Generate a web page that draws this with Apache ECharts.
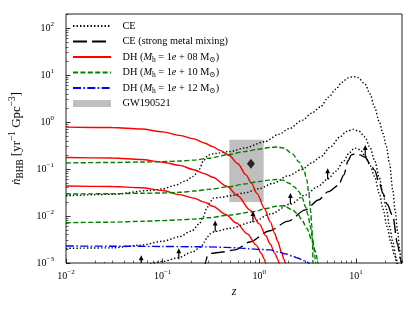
<!DOCTYPE html>
<html><head><meta charset="utf-8">
<script src="https://cdn.jsdelivr.net/npm/echarts@6/dist/echarts.min.js"></script>
<style>html,body{margin:0;padding:0;background:#fff}#c{width:415px;height:311px}</style>
</head><body><div id="c"></div>
<script>
// ---------- tick values ----------
const xMajorTicks = [0.01, 0.1, 1, 10];
const xMinorTicks = [0.02,0.03,0.04,0.05,0.06,0.07,0.08,0.09,0.2,0.3,0.4,0.5,0.6,0.7,0.8,0.9,2,3,4,5,6,7,8,9,20,30];
const yMajorTicks = [0.001, 0.01, 0.1, 1, 10, 100];
const yMinorTicks = [0.002,0.003,0.004,0.005,0.006,0.007,0.008,0.009,0.02,0.03,0.04,0.05,0.06,0.07,0.08,0.09,0.2,0.3,0.4,0.5,0.6,0.7,0.8,0.9,2,3,4,5,6,7,8,9,20,30,40,50,60,70,80,90,200];

// ---------- CE (dotted) ----------
const zCE1 = [0.01,0.03,0.075,0.1,0.135,0.17,0.208,0.24,0.264,0.297,0.35,0.49,0.7,1.13,1.6,2.03,2.78,3.5,4.28,5.22,6.2,7.14,8.3,9.4,10.5,12.4,14,15.6,17.5,19.1,20.7,22.3,24.1,25.5,27.1,28.3,29.3,30];
const nCE1 = [0.027,0.029,0.035,0.038,0.045,0.055,0.07,0.1,0.15,0.2,0.215,0.235,0.28,0.38,0.55,0.72,1.09,1.55,2.1,3.4,5.0,7.0,8.7,9.3,8.9,6.5,4.0,2.1,1.0,0.57,0.3,0.13,0.035,0.013,0.0045,0.002,0.0011,0.0007];
const zCE2 = [0.01,0.03,0.06,0.1,0.147,0.2,0.24,0.264,0.285,0.31,0.334,0.4,0.5,0.7,0.99,1.4,2.0,2.76,3.5,4.28,5.5,6.8,8.0,9.4,10.8,12.4,14,15.6,17.5,19.1,20.7,22.3,24.1,26.3,27.5];
const nCE2 = [0.00205,0.0021,0.0024,0.0029,0.0036,0.0048,0.0068,0.0097,0.0145,0.02,0.024,0.025,0.027,0.031,0.038,0.05,0.072,0.098,0.135,0.18,0.3,0.48,0.63,0.7,0.64,0.48,0.29,0.155,0.065,0.03,0.014,0.006,0.0028,0.0012,0.0007];
const zCE3 = [0.02,0.025,0.04,0.06,0.1,0.147,0.2,0.25,0.27,0.29,0.31,0.35,0.5,0.86,1.3,2.1,3.0,4.0,5.1,6.2,7.5,8.5,9.7,11,12.5,14,15.6,17.5,19.1,21,23,25,27,29];
const nCE3 = [0.0006,0.00065,0.00075,0.00088,0.00108,0.0013,0.0017,0.0022,0.0028,0.0036,0.0042,0.0047,0.0055,0.0075,0.011,0.018,0.028,0.042,0.061,0.09,0.15,0.22,0.28,0.26,0.19,0.12,0.07,0.03,0.014,0.006,0.0028,0.0015,0.0009,0.0006];
// lower-limit arrows on the CE curve
const zArrow = [0.025,0.06,0.147,0.35,0.86,2.1,5.1,12.5];
const nArrow = [0.00062,0.00085,0.0012,0.0047,0.0075,0.018,0.061,0.19];

// ---------- CE (strong metal mixing) ----------
const zCEs = [0.27,0.28,0.29,0.32,0.4,0.56,0.8,1.26,2.0,3.0,4.1,5.2,6.6,7.5,8.3,9.0,9.7,11,12.4,14,15.6,17.5,19.1,21,24.1,27,29,30];
const nCEs = [0.0007,0.0011,0.0014,0.0016,0.0017,0.0019,0.0028,0.0048,0.0078,0.0135,0.022,0.033,0.045,0.075,0.15,0.2,0.21,0.2,0.18,0.13,0.095,0.05,0.03,0.018,0.01,0.0025,0.0012,0.0008];

// ---------- DH Mh=1e8 (red) ----------
const zR1 = [0.01,0.03,0.06,0.1,0.15,0.21,0.27,0.33,0.39,0.49,0.6,0.73,0.82,0.95,1.13,1.3,1.45,1.55,1.7,1.8,1.88,1.92];
const nR1 = [0.78,0.765,0.71,0.62,0.52,0.44,0.36,0.3,0.25,0.195,0.13,0.075,0.052,0.03,0.0145,0.0075,0.0042,0.0029,0.0017,0.0012,0.00095,0.0005];
const zR2 = [0.01,0.03,0.06,0.1,0.15,0.21,0.27,0.33,0.46,0.6,0.8,1.0,1.17,1.3,1.45,1.55,1.62,1.66];
const nR2 = [0.176,0.172,0.16,0.14,0.12,0.097,0.08,0.067,0.043,0.027,0.0135,0.0068,0.0038,0.0025,0.0016,0.0012,0.00095,0.0005];
const zR3 = [0.01,0.03,0.06,0.1,0.15,0.21,0.27,0.33,0.45,0.58,0.75,0.93,1.05,1.13,1.17,1.2];
const nR3 = [0.0435,0.0425,0.04,0.035,0.0285,0.024,0.0198,0.0162,0.0108,0.0071,0.0042,0.0024,0.0016,0.0012,0.00095,0.0006];

// ---------- DH Mh=1e10 (green) ----------
const zG1 = [0.01,0.03,0.06,0.1,0.15,0.21,0.3,0.49,0.7,0.99,1.3,1.55,1.8,2.2,2.6,2.9,3.1,3.26,3.4,3.5,3.56,3.6];
const nG1 = [0.135,0.138,0.141,0.144,0.148,0.155,0.17,0.205,0.235,0.265,0.288,0.295,0.28,0.21,0.14,0.095,0.06,0.03,0.013,0.006,0.0025,0.0008];
const zG2 = [0.01,0.03,0.06,0.1,0.15,0.21,0.3,0.49,0.7,0.99,1.25,1.49,1.75,2.03,2.3,2.57,2.8,3.0,3.2,3.38,3.55,3.66,3.75,3.83,3.87];
const nG2 = [0.0294,0.0298,0.0305,0.031,0.032,0.034,0.037,0.042,0.048,0.054,0.058,0.06,0.058,0.05,0.042,0.033,0.024,0.0158,0.0105,0.006,0.0035,0.0022,0.0015,0.001,0.0006];
const zG3 = [0.01,0.03,0.06,0.1,0.15,0.21,0.3,0.5,0.86,1.2,1.49,1.8,2.2,2.5,2.76,3.1,3.5,3.8,4.0,4.1,4.15];
const nG3 = [0.0072,0.0074,0.0077,0.008,0.0083,0.0086,0.0092,0.0105,0.0124,0.0145,0.0162,0.0165,0.0135,0.011,0.0083,0.0055,0.0031,0.0018,0.0012,0.0009,0.0006];

// ---------- DH Mh=1e12 (blue) ----------
const zB = [0.01,0.03,0.1,0.2,0.3,0.45,0.6,0.8,1.0,1.3,1.6,1.9,2.2,2.5,2.76,2.95,3.1,3.26,3.35];
const nB = [0.0023,0.00228,0.00225,0.00222,0.0022,0.00215,0.0021,0.002,0.00195,0.0019,0.0017,0.00155,0.0014,0.00128,0.00118,0.0011,0.00105,0.001,0.0009];

// ---------- GW190521 ----------
const gwZRange = [0.49, 1.11];
const gwNRange = [0.02, 0.42];
const gwPoint = [0.82, 0.13];

// ---------- names ----------
const NAME_CE = 'CE';
const NAME_CES = 'CE (strong metal mixing)';
const NAME_R = 'DH (M_h = 1e+08 M_sun)';
const NAME_G = 'DH (M_h = 1e+10 M_sun)';
const NAME_B = 'DH (M_h = 1e+12 M_sun)';
const NAME_GW = 'GW190521';

const SERIF = "'Liberation Serif', 'DejaVu Serif', serif";
const pairs = (z, n) => z.map((v, i) => [v, n[i]]);

function lineSeries(name, z, n, color, type, width) {
  return {
    type: 'line', name, data: pairs(z, n), symbol: 'none', showSymbol: false,
    smooth: 0.3, smoothMonotone: 'x', clip: true, z: 3,
    lineStyle: { color, type, width, cap: 'butt' }, itemStyle: { color },
    emphasis: { disabled: true }
  };
}

const logLabel = (v) => {
  const e = Math.round(Math.log10(v));
  return '{b|10}{s|' + (e < 0 ? '\u2212' + (-e) : String(e)) + '}';
};
const tickRich = {
  b: { fontFamily: SERIF, fontSize: 10, lineHeight: 14, color: '#000' },
  s: { fontFamily: SERIF, fontSize: 7, lineHeight: 8, verticalAlign: 'top', color: '#000' }
};

const LF = 10.3;
const legendRich = {
  p: { width: 6.5, fontSize: LF, lineHeight: 14 },
  t: { fontFamily: SERIF, fontSize: LF, lineHeight: 14, color: '#000' },
  i: { fontFamily: SERIF, fontSize: LF, lineHeight: 14, fontStyle: 'italic', color: '#000' },
  sb: { fontFamily: SERIF, fontSize: 7.5, lineHeight: 9, verticalAlign: 'bottom', color: '#000' }
};
const legendText = {};
legendText[NAME_CE] = '{p| }{t|CE}';
legendText[NAME_CES] = '{p| }{t|CE (strong metal mixing)}';
legendText[NAME_R] = '{p| }{t|DH (}{i|M}{sb|h}{t| = 1}{i|e}{t| + 08 M}{sb|\u2299}{t|)}';
legendText[NAME_G] = '{p| }{t|DH (}{i|M}{sb|h}{t| = 1}{i|e}{t| + 10 M}{sb|\u2299}{t|)}';
legendText[NAME_B] = '{p| }{t|DH (}{i|M}{sb|h}{t| = 1}{i|e}{t| + 12 M}{sb|\u2299}{t|)}';
legendText[NAME_GW] = '{p| }{t|GW190521}';

const dotted = [1.4, 2.1];
const longDash = [14, 5];
const shortDash = [5, 2.4];
const dashDot = [8, 2.4, 1.5, 2.4];

const series = [
  {
    type: 'custom', name: NAME_GW, coordinateSystem: 'cartesian2d', clip: true, z: 1,
    itemStyle: { color: '#bfbfbf' },
    encode: { x: [0, 1], y: [2, 3] },
    data: [[gwZRange[0], gwZRange[1], gwNRange[0], gwNRange[1]]],
    renderItem: (params, api) => {
      const p0 = api.coord([api.value(0), api.value(2)]);
      const p1 = api.coord([api.value(1), api.value(3)]);
      return { type: 'rect', shape: { x: Math.min(p0[0], p1[0]), y: Math.min(p0[1], p1[1]),
        width: Math.abs(p1[0] - p0[0]), height: Math.abs(p1[1] - p0[1]) }, style: { fill: '#bfbfbf' } };
    }
  },
  lineSeries(NAME_CE, zCE1, nCE1, '#000', dotted, 1.4),
  lineSeries(NAME_CE, zCE2, nCE2, '#000', dotted, 1.4),
  lineSeries(NAME_CE, zCE3, nCE3, '#000', dotted, 1.4),
  lineSeries(NAME_CES, zCEs, nCEs, '#000', longDash, 1.4),
  lineSeries(NAME_R, zR1, nR1, '#ff0000', 'solid', 1.4),
  lineSeries(NAME_R, zR2, nR2, '#ff0000', 'solid', 1.4),
  lineSeries(NAME_R, zR3, nR3, '#ff0000', 'solid', 1.4),
  lineSeries(NAME_G, zG1, nG1, '#008000', shortDash, 1.4),
  lineSeries(NAME_G, zG2, nG2, '#008000', shortDash, 1.4),
  lineSeries(NAME_G, zG3, nG3, '#008000', shortDash, 1.4),
  lineSeries(NAME_B, zB, nB, '#0000ff', dashDot, 1.4),
  {
    type: 'custom', name: 'lower limits', coordinateSystem: 'cartesian2d', clip: true, z: 4,
    encode: { x: 0, y: 1 },
    data: pairs(zArrow, nArrow),
    renderItem: (params, api) => {
      const p = api.coord([api.value(0), api.value(1)]);
      return { type: 'group', children: [
        { type: 'line', shape: { x1: p[0], y1: p[1], x2: p[0], y2: p[1] - 7 }, style: { stroke: '#000', lineWidth: 1.2 } },
        { type: 'polygon', shape: { points: [[p[0] - 2.4, p[1] - 6], [p[0] + 2.4, p[1] - 6], [p[0], p[1] - 11]] }, style: { fill: '#000' } }
      ] };
    }
  },
  {
    type: 'scatter', name: 'GW190521 point', data: [gwPoint], symbol: 'diamond', symbolSize: [8, 10],
    itemStyle: { color: '#000' }, z: 5, emphasis: { disabled: true }
  }
];

const chart = echarts.init(document.getElementById('c'), null, { renderer: 'canvas' });
chart.setOption({
  animation: false,
  backgroundColor: '#fff',
  grid: { left: 61, right: 13, top: 14, bottom: 48, show: true, borderColor: '#222', borderWidth: 1, backgroundColor: 'transparent' },
  legend: {
    orient: 'vertical', left: 72, top: 19, padding: 0, itemGap: 1.5,
    itemWidth: 38, itemHeight: 7, selectedMode: false,
    itemStyle: { opacity: 0 },
    data: [
      { name: NAME_CE }, { name: NAME_CES }, { name: NAME_R }, { name: NAME_G }, { name: NAME_B },
      { name: NAME_GW, icon: 'rect', itemStyle: { opacity: 1, color: '#bfbfbf' } }
    ],
    formatter: (name) => legendText[name] || name,
    textStyle: { fontFamily: SERIF, fontSize: LF, lineHeight: 14, color: '#000', rich: legendRich }
  },
  xAxis: [
    {
      type: 'log', logBase: 10, min: 0.01, max: 30, position: 'bottom',
      axisLine: { show: false }, splitLine: { show: false },
      axisTick: { inside: true, length: 4.5, customValues: xMajorTicks, lineStyle: { color: '#000', width: 0.8 } },
      axisLabel: { customValues: xMajorTicks, formatter: logLabel, rich: tickRich, margin: 6, color: '#000' },
      name: 'z', nameLocation: 'middle', nameGap: 20,
      nameTextStyle: { fontFamily: SERIF, fontStyle: 'italic', fontSize: 12, color: '#000' }
    },
    {
      type: 'log', logBase: 10, min: 0.01, max: 30, position: 'bottom',
      axisLine: { show: false }, splitLine: { show: false }, axisLabel: { show: false },
      axisTick: { inside: true, length: 2.5, customValues: xMinorTicks, lineStyle: { color: '#000', width: 0.6 } }
    }
  ],
  yAxis: [
    {
      type: 'log', logBase: 10, min: 0.001, max: 200, position: 'left',
      axisLine: { show: false }, splitLine: { show: false },
      axisTick: { inside: true, length: 4.5, customValues: yMajorTicks, lineStyle: { color: '#000', width: 0.8 } },
      axisLabel: { customValues: yMajorTicks, formatter: logLabel, rich: tickRich, margin: 12, color: '#000' },
      name: '{i|\u1E45}{sb|BHB}{t| [yr}{sp|\u22121}{t| Gpc}{sp|\u22123}{t|]}',
      nameLocation: 'middle', nameRotate: 90, nameGap: 41,
      nameTextStyle: {
        fontFamily: SERIF, fontSize: 13, color: '#000',
        rich: {
          t: { fontFamily: SERIF, fontSize: 13, lineHeight: 17, color: '#000' },
          i: { fontFamily: SERIF, fontSize: 13, lineHeight: 17, fontStyle: 'italic', color: '#000' },
          sb: { fontFamily: SERIF, fontSize: 9.3, lineHeight: 11, verticalAlign: 'bottom', color: '#000' },
          sp: { fontFamily: SERIF, fontSize: 9.3, lineHeight: 11, verticalAlign: 'top', color: '#000' }
        }
      }
    },
    {
      type: 'log', logBase: 10, min: 0.001, max: 200, position: 'left',
      axisLine: { show: false }, splitLine: { show: false }, axisLabel: { show: false },
      axisTick: { inside: true, length: 2.5, customValues: yMinorTicks, lineStyle: { color: '#000', width: 0.6 } }
    }
  ],
  series
});
</script>
</body></html>
